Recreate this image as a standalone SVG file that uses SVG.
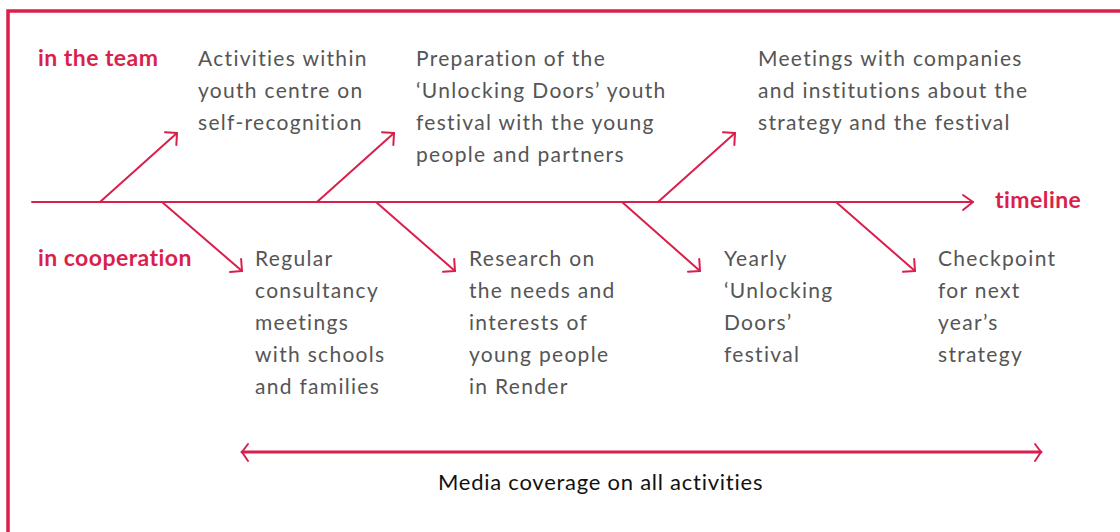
<svg xmlns="http://www.w3.org/2000/svg" width="1120" height="532" viewBox="0 0 1120 532">
<defs>
<style>
.frame{fill:none;stroke:#DA1F4C;stroke-width:3.5}
.line{fill:none;stroke:#DA1F4C;stroke-width:2;stroke-linecap:round;stroke-linejoin:round}
.thick{fill:none;stroke:#DA1F4C;stroke-width:3;stroke-linecap:round;stroke-linejoin:round}
.lbl{font-family:Lato,"Liberation Sans",sans-serif;font-weight:bold;font-size:23px;fill:#DA1F4C;letter-spacing:0.45px}
.txt{font-family:Lato,"Liberation Sans",sans-serif;font-size:21px;fill:#555555;letter-spacing:1.3px}
.media{font-family:Lato,"Liberation Sans",sans-serif;font-size:22px;fill:#111111;letter-spacing:0.75px}
</style>
<marker id="ah" markerUnits="userSpaceOnUse" viewBox="-12 -10 14 20" refX="0" refY="0" markerWidth="14" markerHeight="20" orient="auto">
<path d="M-8.5,-8.5 L0,0 L-8.5,8.5" fill="none" stroke="#DA1F4C" stroke-width="2" stroke-linecap="round" stroke-linejoin="round"/>
</marker>
</defs>
<rect width="1120" height="532" fill="#ffffff"/>
<rect class="frame" x="8" y="11" width="1200" height="600"/>

<g id="connectors">
<path id="timeline-axis" class="line" d="M32,202 L973,202"/>
<path class="line" d="M963,195 L973,202 L963,210"/>
<path class="line" d="M100,202 L177,133" marker-end="url(#ah)"/>
<path class="line" d="M317,202 L394,133" marker-end="url(#ah)"/>
<path class="line" d="M658,202 L735,133" marker-end="url(#ah)"/>
<path class="line" d="M162,202 L242,271" marker-end="url(#ah)"/>
<path class="line" d="M376,202 L455,271" marker-end="url(#ah)"/>
<path class="line" d="M622,202 L700,271" marker-end="url(#ah)"/>
<path class="line" d="M836,202 L915,271" marker-end="url(#ah)"/>
<path class="thick" d="M242,452 L1041,452"/>
<path class="line" d="M248,444 L242,452 L248,461"/>
<path class="line" d="M1035,444 L1041,452 L1035,461"/>
</g>

<g id="label-team"><text class="lbl" x="38" y="66">in the team</text></g>
<g id="label-cooperation"><text class="lbl" x="38" y="266">in cooperation</text></g>
<g id="label-timeline"><text class="lbl" x="995" y="208">timeline</text></g>

<g id="node-activities">
<text class="txt" x="198" y="66">Activities within</text>
<text class="txt" x="198" y="98">youth centre on</text>
<text class="txt" x="198" y="130">self-recognition</text>
</g>
<g id="node-preparation">
<text class="txt" x="416" y="66">Preparation of the</text>
<text class="txt" x="416" y="98">‘Unlocking Doors’ youth</text>
<text class="txt" x="416" y="130">festival with the young</text>
<text class="txt" x="416" y="162">people and partners</text>
</g>
<g id="node-meetings">
<text class="txt" x="758" y="66">Meetings with companies</text>
<text class="txt" x="758" y="98">and institutions about the</text>
<text class="txt" x="758" y="130">strategy and the festival</text>
</g>
<g id="node-consultancy">
<text class="txt" x="255" y="266">Regular</text>
<text class="txt" x="255" y="298">consultancy</text>
<text class="txt" x="255" y="330">meetings</text>
<text class="txt" x="255" y="362">with schools</text>
<text class="txt" x="255" y="394">and families</text>
</g>
<g id="node-research">
<text class="txt" x="469" y="266">Research on</text>
<text class="txt" x="469" y="298">the needs and</text>
<text class="txt" x="469" y="330">interests of</text>
<text class="txt" x="469" y="362">young people</text>
<text class="txt" x="469" y="394">in Render</text>
</g>
<g id="node-festival">
<text class="txt" x="724" y="266">Yearly</text>
<text class="txt" x="724" y="298">‘Unlocking</text>
<text class="txt" x="724" y="330">Doors’</text>
<text class="txt" x="724" y="362">festival</text>
</g>
<g id="node-checkpoint">
<text class="txt" x="938" y="266">Checkpoint</text>
<text class="txt" x="938" y="298">for next</text>
<text class="txt" x="938" y="330">year’s</text>
<text class="txt" x="938" y="362">strategy</text>
</g>
<g id="node-media">
<text class="media" x="438" y="490">Media coverage on all activities</text>
</g>
</svg>
